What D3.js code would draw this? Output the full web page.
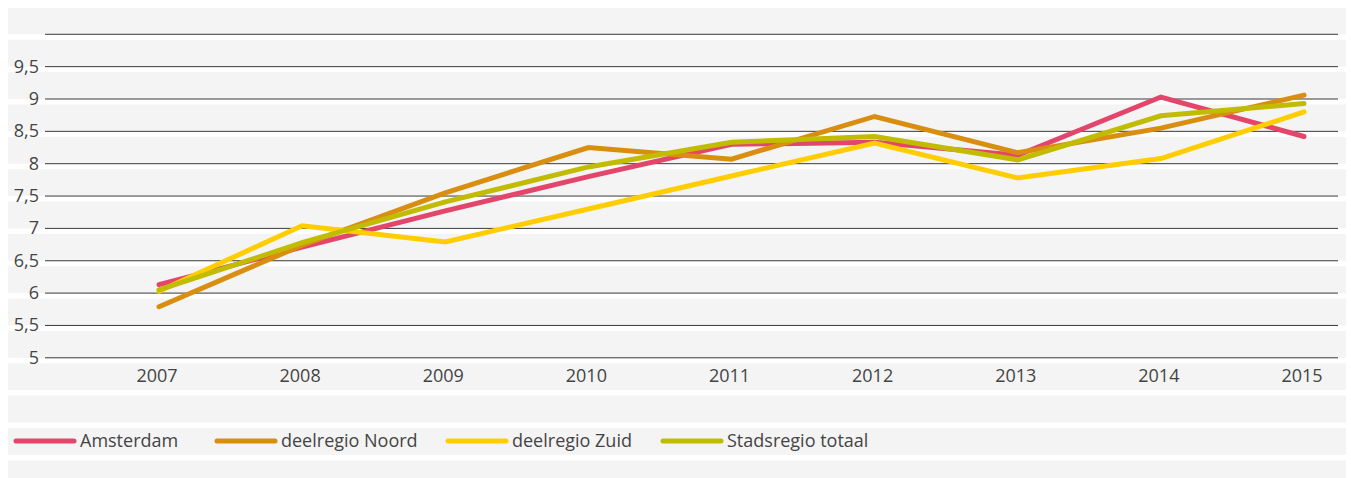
<!DOCTYPE html>
<html>
<head>
<meta charset="utf-8">
<script src="https://cdn.jsdelivr.net/npm/d3@7"></script>
<style>
  body { margin: 0; background: #fff; }
  svg { display: block; font-family: "Open Sans", sans-serif; }
</style>
</head>
<body>
<svg width="1351" height="478"></svg>
<script>
  var years = ["2007", "2008", "2009", "2010", "2011", "2012", "2013", "2014", "2015"]
  var yTicks = [5, 5.5, 6, 6.5, 7, 7.5, 8, 8.5, 9, 9.5, 10]

  var amsterdam = [6.13, 6.71, 7.27, 7.8, 8.3, 8.33, 8.13, 9.03, 8.42]
  var noord = [5.79, 6.74, 7.55, 8.25, 8.07, 8.73, 8.17, 8.55, 9.06]
  var zuid = [6.03, 7.04, 6.79, 7.3, 7.81, 8.32, 7.78, 8.08, 8.8]
  var stadsregio = [6.05, 6.78, 7.41, 7.95, 8.33, 8.42, 8.06, 8.74, 8.93]

  var seriesNames = ["Amsterdam", "deelregio Noord", "deelregio Zuid", "Stadsregio totaal"]
  var seriesColors = ["#e3466a", "#d98e10", "#ffcd00", "#c2bc00"]
  var seriesValues = [amsterdam, noord, zuid, stadsregio]

  var svg = d3.select('svg')

  var x = d3.scalePoint().domain(years).range([159, 1304])
  var y = d3.scaleLinear().domain([5, 10]).range([357.8, 34.3])

  // striped background, white gap under each half unit
  var bands = d3.range(10.5, 3.4, -0.5)
  svg.append("g")
    .selectAll("rect")
    .data(bands)
    .enter().append("rect")
    .attr("x", 8)
    .attr("width", 1338)
    .attr("y", function (v) { return Math.max(8, y(v) + 5.5) })
    .attr("height", function (v) { return y(v - 0.5) - Math.max(8, y(v) + 5.5) })
    .attr("fill", "#f4f4f4")

  // gridlines
  svg.append("g")
    .selectAll("line")
    .data(yTicks)
    .enter().append("line")
    .attr("x1", 45)
    .attr("x2", 1338)
    .attr("y1", function (v) { return y(v) })
    .attr("y2", function (v) { return y(v) })
    .attr("stroke", "#3a3a3a")
    .attr("stroke-width", 1)

  // y labels
  svg.append("g")
    .selectAll("text")
    .data(yTicks.filter(function (v) { return v < 10 }))
    .enter().append("text")
    .attr("x", 39)
    .attr("y", function (v) { return y(v) + 6 })
    .attr("text-anchor", "end")
    .attr("font-size", 18)
    .attr("fill", "#444")
    .text(function (v) { return String(v).replace(".", ",") })

  // x labels
  svg.append("g")
    .selectAll("text")
    .data(years)
    .enter().append("text")
    .attr("x", function (d) { return x(d) - 2 })
    .attr("y", 382)
    .attr("text-anchor", "middle")
    .attr("font-size", 18)
    .attr("fill", "#444")
    .text(function (d) { return d })

  var line = d3.line()
    .x(function (d, i) { return x(years[i]) })
    .y(function (d) { return y(d) })

  svg.append("g")
    .selectAll("path")
    .data(seriesValues)
    .enter().append("path")
    .attr("d", line)
    .attr("fill", "none")
    .attr("stroke", function (d, i) { return seriesColors[i] })
    .attr("stroke-width", 5)
    .attr("stroke-linecap", "round")
    .attr("stroke-linejoin", "miter")

  // legend
  var legendX = [16, 217, 448, 663]
  var legend = svg.append("g")
    .selectAll("g")
    .data(seriesNames)
    .enter().append("g")
    .attr("transform", function (d, i) { return "translate(" + legendX[i] + ",441)" })

  legend.append("line")
    .attr("x1", 0)
    .attr("x2", 58)
    .attr("stroke", function (d, i) { return seriesColors[i] })
    .attr("stroke-width", 5)
    .attr("stroke-linecap", "round")

  legend.append("text")
    .attr("x", 64)
    .attr("y", 6)
    .attr("font-size", 18)
    .attr("fill", "#444")
    .text(function (d) { return d })
</script>
</body>
</html>
